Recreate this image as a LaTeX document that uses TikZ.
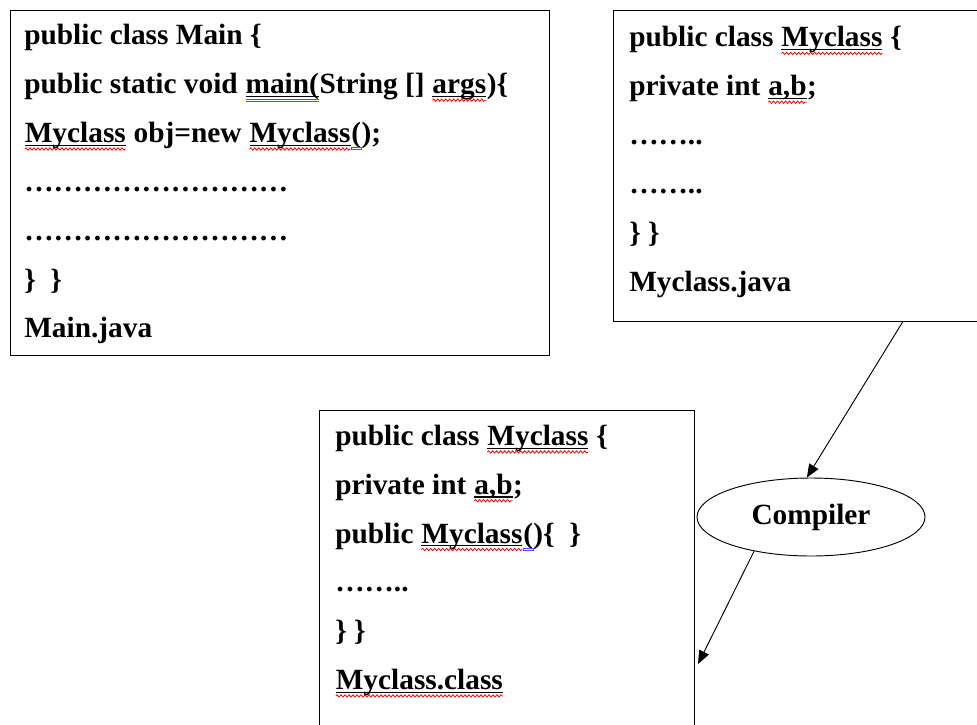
\documentclass[tikz,border=0pt]{standalone}
\usepackage{fontspec}
\setmainfont{Liberation Serif}
\usetikzlibrary{calc}
\usetikzlibrary{shapes.geometric}
\usetikzlibrary{arrows.meta}
\usetikzlibrary{decorations.pathmorphing}
\newcommand{\sq}[1]{\tikz[baseline=(w.base), x=1pt, y=1pt]{\node[inner sep=0pt, outer sep=0pt, anchor=base] (w) {#1};
  \draw[line width=0.8pt] ([yshift=-2pt]w.base west) -- ([yshift=-2pt]w.base east);
  \draw[red, line width=0.6pt, decorate, decoration={snake, amplitude=0.9pt, segment length=3pt}] ([yshift=-4.8pt]w.base west) -- ([yshift=-4.8pt]w.base east);}}
\newcommand{\gq}[1]{\tikz[baseline=(w.base), x=1pt, y=1pt]{\node[inner sep=0pt, outer sep=0pt, anchor=base] (w) {#1};
  \draw[line width=0.8pt] ([yshift=-2pt]w.base west) -- ([yshift=-2pt]w.base east);
  \draw[blue!70, line width=0.5pt] ([yshift=-3.8pt]w.base west) -- ([yshift=-3.8pt]w.base east);
  \draw[blue!70, line width=0.5pt] ([yshift=-5.3pt]w.base west) -- ([yshift=-5.3pt]w.base east);}}
\newcommand{\bq}[1]{\tikz[baseline=(w.base), x=1pt, y=1pt]{\node[inner sep=0pt, outer sep=0pt, anchor=base] (w) {#1};
  \draw[blue!70, line width=0.5pt] ([yshift=-3.8pt]w.base west) rectangle ([yshift=-5.3pt]w.base east);}}
\newcommand{\codeline}[4]{\node[codetext] (#1) at ( #2 , #3 ) {#4};}
\newcommand{\codebox}[5]{\node[codebox, minimum width=#4*0.75pt, minimum height=#5*0.75pt] (#1) at ( #2 , #3 ) {};}
\tikzset{
  codebox/.style={draw, line width=0.8pt, rectangle, anchor=north west, inner sep=0pt},
  codetext/.style={anchor=base west, inner sep=0pt, font=\fontsize{22}{26}\selectfont\bfseries},
  stage/.style={draw, ellipse, line width=0.7pt, inner sep=0pt, minimum width=171pt, minimum height=58.5pt, font=\fontsize{22}{26}\selectfont\bfseries},
  flow/.style={-{Triangle[length=10pt,width=8pt]}, line width=0.7pt}
}

\begin{document}
\begin{tikzpicture}[x=0.75pt, y=-0.75pt]
        \useasboundingbox (0,0) rectangle (977,724);
        \clip (0,0) rectangle (977,724);

        % box 1
        \codebox{mainbox}{10}{10}{539}{345}
        \codeline{m1}{24}{45}{public class Main \{}
        \codeline{m2}{24}{93.8}{public static void \gq{main(}String [] \sq{args})\{}
        \codeline{m3}{24}{142.6}{\sq{Myclass} obj=new \sq{Myclass}\bq{(});}
        \codeline{m4}{24}{191.4}{………………………}
        \codeline{m5}{24}{240.2}{………………………}
        \codeline{m6}{24}{289}{\}\ \ \}}
        \codeline{m7}{24}{337.8}{Main.java}

        % box 2
        \codebox{myjavabox}{613}{10}{380}{311}
        \codeline{j1}{629}{47}{public class \sq{Myclass} \{}
        \codeline{j2}{629}{95.8}{private int \sq{a,b};}
        \codeline{j3}{629}{144.6}{……..}
        \codeline{j4}{629}{193.4}{……..}
        \codeline{j5}{629}{242.2}{\} \}}
        \codeline{j6}{629}{291}{Myclass.java}

        % box 3
        \codebox{myclassbox}{319}{410}{375}{330}
        \codeline{c1}{335}{445.5}{public class \sq{Myclass} \{}
        \codeline{c2}{335}{494.3}{private int \sq{a,b};}
        \codeline{c3}{335}{543.1}{public \sq{Myclass}\bq{(})\{\ \ \}}
        \codeline{c4}{335}{591.9}{……..}
        \codeline{c5}{335}{640.7}{\} \}}
        \codeline{c6}{335}{689.5}{\sq{Myclass.class}}

        % compiler
        \node[stage] (compiler) at (811,517) {Compiler};
        \draw[flow] ($(myjavabox.south west)!0.76!(myjavabox.south east)$) -- (compiler.96);
        \draw[flow] (compiler.211) -- ($(myclassbox.north east)+(3,254)$);
\end{tikzpicture}
\end{document}
